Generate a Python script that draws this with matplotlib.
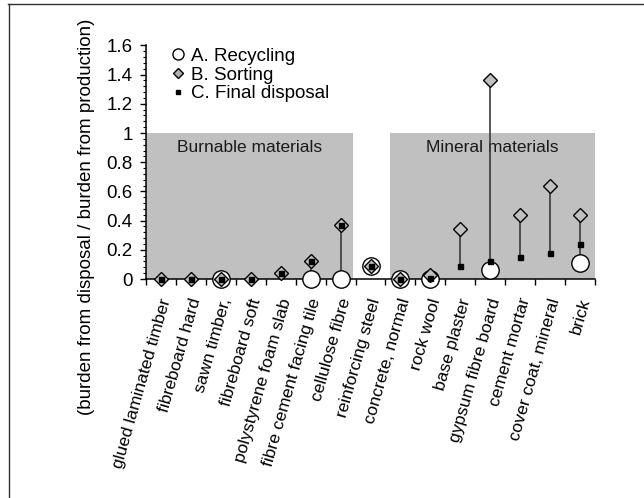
import numpy as np
import matplotlib
matplotlib.use("Agg")
import matplotlib.pyplot as plt
from matplotlib.lines import Line2D
from matplotlib.ticker import FuncFormatter, MultipleLocator

plt.rcParams['font.family'] = ['Liberation Sans', 'DejaVu Sans']

categories = ["glued laminated timber", "fibreboard hard", "sawn timber,", "fibreboard soft",
              "polystyrene foam slab", "fibre cement facing tile", "cellulose fibre",
              "reinforcing steel", "concrete, normal", "rock wool", "base plaster",
              "gypsum fibre board", "cement mortar", "cover coat, mineral", "brick"]
recycling = [np.nan, np.nan, 0.0, np.nan, np.nan, 0.0, 0.0, 0.09, 0.0, 0.0,
             np.nan, 0.06, np.nan, np.nan, 0.11]
sorting = [0.0, 0.0, 0.0, 0.0, 0.04, 0.12, 0.37, 0.09, 0.0, 0.03,
           0.345, 1.365, 0.44, 0.635, 0.44]
final_disposal = [0.0, 0.0, 0.0, 0.0, 0.04, 0.12, 0.37, 0.09, 0.0, 0.01,
                  0.09, 0.125, 0.15, 0.175, 0.24]
series_labels = ["A. Recycling", "B. Sorting", "C. Final disposal"]
region_labels = ["Burnable materials", "Mineral materials"]
region_spans = [(-0.5, 6.41), (7.65, 14.5)]
region_height = 1.0

FS = 12.5
FS_BIG = 13.5
W, H = 644, 498
fig = plt.figure(figsize=(W / 100, H / 100), dpi=100)
ax = fig.add_axes([146 / W, 1 - 279 / H, (595 - 146) / W, (279 - 45.4) / H])

x = np.arange(len(categories))
A = np.array(recycling, dtype=float)
B = np.array(sorting, dtype=float)
C = np.array(final_disposal, dtype=float)

# shaded regions
for (x0, x1), lab in zip(region_spans, region_labels):
    ax.fill_between([x0, x1], 0, region_height, color='#c0c0c0', lw=0, zorder=0)
    ax.text((x0 + x1) / 2, 0.90, lab, ha='center', va='center', fontsize=FS,
            color='#1a1a1a', zorder=1)

# high-low lines
stack = np.vstack([A, B, C])
lo = np.nanmin(stack, axis=0)
hi = np.nanmax(stack, axis=0)
ax.vlines(x, lo, hi, color='#3a3a3a', lw=1.2, zorder=2)

ax.plot(x, A, 'o', ms=12.5, mfc='white', mec='black', mew=1.0, ls='none',
        zorder=4, clip_on=False)
ax.plot(x, B, 'D', ms=7.4, mfc='#c0c0c0', mec='black', mew=1.0, ls='none',
        zorder=5, clip_on=False)
ax.plot(x, C, 's', ms=3.6, mfc='black', mec='black', ls='none', zorder=6,
        clip_on=False)

ax.set_xlim(-0.5, len(categories) - 0.5)
ax.set_ylim(0, 1.6)
for s in ['top', 'right']:
    ax.spines[s].set_visible(False)
for s in ['left', 'bottom']:
    ax.spines[s].set_linewidth(1.1)
    ax.spines[s].set_zorder(3)

ax.set_xticks(x)
ax.set_xticklabels([])
ax.set_xticks(np.arange(-0.5, len(categories), 1), minor=True)
ax.tick_params(axis='x', which='major', length=0)
ax.tick_params(axis='x', which='minor', length=4.5, width=1.0, direction='out')

ax.yaxis.set_major_locator(MultipleLocator(0.2))
ax.yaxis.set_minor_locator(MultipleLocator(0.04))
ax.yaxis.set_major_formatter(FuncFormatter(lambda v, p: f"{v:g}"))
ax.tick_params(axis='y', which='major', length=4.5, width=1.0, direction='out',
               labelsize=FS_BIG, pad=5)
ax.tick_params(axis='y', which='minor', length=2.5, width=0.8, direction='out')

for xi, lab in zip(x, categories):
    ax.annotate(lab, xy=(xi, 0), xycoords='data', xytext=(4, -14),
                textcoords='offset points', rotation=74, rotation_mode='anchor',
                ha='right', va='center', fontsize=FS, annotation_clip=False)

fig.text(87 / W, 1 - 217 / H, "(burden from disposal / burden from production)",
         rotation=90, ha='center', va='center', fontsize=FS_BIG)

handles = [
    Line2D([], [], marker='o', ls='none', ms=8, mfc='white', mec='black', mew=1.0),
    Line2D([], [], marker='D', ls='none', ms=5.5, mfc='#b0b0b0', mec='black', mew=1.0),
    Line2D([], [], marker='s', ls='none', ms=3.5, mfc='black', mec='black'),
]
fig.legend(handles, series_labels, loc='upper left',
           bbox_to_anchor=(168 / W, 1 - 46 / H), frameon=False, fontsize=FS_BIG,
           handlelength=0.9, handletextpad=0.25, labelspacing=0.08,
           borderpad=0.1, borderaxespad=0)

fig.add_artist(Line2D([8 / W, 1], [1 - 4.5 / H] * 2, transform=fig.transFigure,
                      color='#303030', lw=1.0))
fig.add_artist(Line2D([8.5 / W] * 2, [0, 1 - 4.5 / H], transform=fig.transFigure,
                      color='#303030', lw=1.0))

fig.savefig("out.png", dpi=100)
